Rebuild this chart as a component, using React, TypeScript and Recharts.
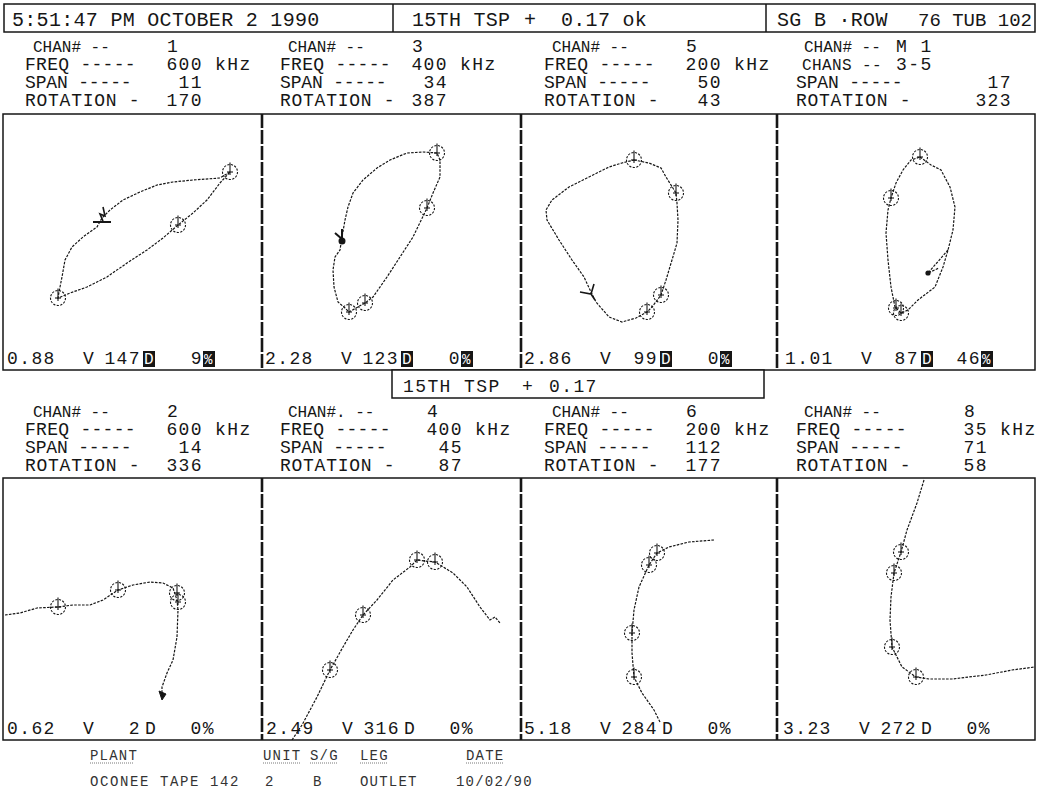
import React from 'react';
import { ScatterChart, Scatter, XAxis, YAxis } from 'recharts';

// channel header values, in panel order (top row 1,3,5,mix then bottom row 2,4,6,8)
const chanNumbers = ['1', '3', '5', 'M 1', '2', '4', '6', '8'];
const freqValues = ['600', '400', '200', '3-5', '600', '400', '200', '35'];
const spanValues = ['11', '34', '50', '17', '14', '45', '112', '71'];
const rotationValues = ['170', '387', '43', '323', '336', '87', '177', '58'];
const voltValues = ['0.88', '2.28', '2.86', '1.01', '0.62', '2.49', '5.18', '3.23'];
const angleValues = ['147', '123', '99', '87', '2', '316', '284', '272'];
const pctValues = ['9', '0', '0', '46', '0', '0', '0', '0'];

// lissajous traces, panel units (x right, y up)
const p1Trace = [[227,198],[217,192],[190,190],[170,188],[154,185],[137,178],[120,170],[107,160],[99,152],[94,143],[80,133],[69,123],[62,110],[59,93],[56,78],[55,72],[67,77],[84,83],[104,93],[124,107],[144,120],[160,132],[175,145],[190,157],[204,170],[217,187],[227,198]];
const p1Rings = [[227,198],[175,145],[55,72]];
const p1Marks = [[99,155]];

const p2Trace = [[175,217],[161,218],[145,217],[128,210],[115,202],[101,190],[91,177],[86,163],[83,150],[80,133],[78,120],[73,113],[71,100],[72,83],[76,68],[83,62],[87,58],[103,67],[111,73],[125,93],[138,113],[151,133],[165,162],[171,177],[178,193],[178,210],[175,217]];
const p2Rings = [[175,217],[165,162],[103,67],[87,58]];
const p2Marks = [[80,133]];

const p3Trace = [[113,210],[128,207],[140,202],[145,193],[155,177],[156,167],[157,150],[156,127],[151,110],[145,90],[140,75],[131,63],[126,58],[115,52],[101,48],[88,53],[75,68],[70,78],[63,93],[51,110],[38,130],[26,150],[25,160],[31,170],[48,183],[68,193],[88,203],[101,207],[113,210]];
const p3Rings = [[113,210],[155,177],[140,75],[126,58]];
const p3Marks = [[70,78]];

const p4Trace = [[143,213],[154,205],[164,200],[173,183],[178,163],[176,140],[171,120],[166,103],[158,83],[141,70],[131,60],[124,57],[118,63],[114,83],[111,110],[109,137],[111,160],[114,172],[119,187],[126,200],[134,210],[143,213]];
const p4Spur = [[171,120],[151,97],[162,102]];
const p4Rings = [[143,213],[114,172],[124,57],[119,62]];
const p4Marks = [[151,97]];

const p5Trace = [[2,125],[17,127],[34,132],[55,133],[70,135],[87,135],[100,140],[115,150],[130,155],[147,158],[160,157],[170,152],[174,140],[175,130],[174,103],[170,80],[164,67],[159,53],[159,43]];
const p5Rings = [[55,133],[115,150],[174,147],[175,138]];
const p5Marks = [[159,43]];

const p6Trace = [[30,0],[40,15],[55,43],[68,70],[81,93],[91,110],[101,125],[115,140],[131,160],[148,173],[155,180],[163,179],[173,178],[191,167],[205,153],[218,133],[228,120],[233,123],[238,117]];
const p6Rings = [[68,70],[101,125],[155,180],[173,178]];

const p7Trace = [[193,200],[168,198],[148,193],[136,187],[128,175],[118,153],[113,130],[111,107],[111,87],[113,63],[121,47],[133,30],[139,18]];
const p7Rings = [[136,187],[128,175],[111,107],[113,63]];

const p8Trace = [[147,260],[140,237],[130,210],[124,188],[117,167],[114,143],[113,120],[115,93],[125,73],[139,63],[152,61],[175,61],[209,65],[235,70],[258,73]];
const p8Rings = [[124,188],[117,167],[115,93],[139,63]];

const FONT = '"Liberation Mono", "DejaVu Sans Mono", monospace';
const INK = '#161616';
const pts = (arr: number[][]) => arr.map(([x, y]) => ({ x, y }));
const traceStyle = { stroke: INK, strokeWidth: 1.2, strokeDasharray: '2.6 1.3', fill: 'none' };

const Blank = () => <g />;

const Ring = (props: any) => {
  const { cx, cy } = props;
  const r = 7.5;
  return (
    <g>
      <circle cx={cx} cy={cy} r={r} fill="none" stroke={INK} strokeWidth={1.1} strokeDasharray="2.2 1.4" />
      <line x1={cx} x2={cx} y1={cy - r - 2} y2={cy + 3} stroke={INK} strokeWidth={1.1} />
      <line x1={cx - 3} x2={cx + 3} y1={cy} y2={cy} stroke={INK} strokeWidth={1.1} />
    </g>
  );
};

const Bolt = (props: any) => {
  const { cx, cy } = props;
  return (
    <g stroke={INK} strokeWidth={1.6} fill="none">
      <path d={`M${cx - 9} ${cy + 7} H${cx + 9}`} strokeWidth={2} />
      <path d={`M${cx + 1} ${cy + 6} L${cx - 2} ${cy - 1} L${cx + 3} ${cy + 1} L${cx + 1} ${cy - 8}`} />
    </g>
  );
};

const Flag = (props: any) => {
  const { cx, cy } = props;
  return (
    <g stroke={INK} strokeWidth={2} fill="none">
      <path d={`M${cx - 7} ${cy - 4} L${cx} ${cy + 2} L${cx} ${cy - 8}`} />
      <circle cx={cx} cy={cy + 4} r={2.5} fill={INK} />
    </g>
  );
};

const Fork = (props: any) => {
  const { cx, cy } = props;
  return (
    <g stroke={INK} strokeWidth={1.6} fill="none">
      <path d={`M${cx - 11} ${cy} L${cx} ${cy + 2} L${cx + 3} ${cy - 8} M${cx} ${cy + 2} L${cx + 4} ${cy + 8}`} />
    </g>
  );
};

const Dot = (props: any) => {
  const { cx, cy } = props;
  return <circle cx={cx} cy={cy} r={2.6} fill={INK} />;
};

const Arrow = (props: any) => {
  const { cx, cy } = props;
  return <path d={`M${cx - 3} ${cy - 6} L${cx + 4} ${cy - 3} L${cx} ${cy + 3} Z`} fill={INK} stroke={INK} />;
};

const PanelChart = ({ x, y, w, h, trace, rings, spur, marks, markShape }: any) => (
  <div style={{ position: 'absolute', left: x, top: y, width: w, height: h }}>
    <ScatterChart width={w} height={h} margin={{ top: 0, right: 0, bottom: 0, left: 0 }}>
      <XAxis type="number" dataKey="x" domain={[0, w]} hide />
      <YAxis type="number" dataKey="y" domain={[0, h]} hide />
      <Scatter data={pts(trace)} line={traceStyle} shape={Blank} isAnimationActive={false} />
      {spur && <Scatter data={pts(spur)} line={traceStyle} shape={Blank} isAnimationActive={false} />}
      <Scatter data={pts(rings)} shape={Ring} isAnimationActive={false} />
      {marks && <Scatter data={pts(marks)} shape={markShape} isAnimationActive={false} />}
    </ScatterChart>
  </div>
);

const T = ({ x, y, children, size = 18, anchor = 'start', fill = INK, len, spacing }: any) => (
  <text
    x={x}
    y={y}
    fontFamily={FONT}
    fontSize={size}
    letterSpacing={spacing ?? (size >= 19 ? 0.3 : size >= 17 ? 1.4 : 1.6)}
    textAnchor={anchor}
    fill={fill}
    xmlSpace="preserve"
    style={{ whiteSpace: 'pre' }}
    textLength={len}
    lengthAdjust={len ? 'spacing' : undefined}
  >
    {children}
  </text>
);

const colX = [3, 262, 521, 777, 1035];
const blockX = [25, 280, 544, 796];

export default function App() {
  const topY = 114, topH = 256, botY = 478, botH = 262;
  const panels = [
    { trace: p1Trace, rings: p1Rings, marks: p1Marks, markShape: Bolt },
    { trace: p2Trace, rings: p2Rings, marks: p2Marks, markShape: Flag },
    { trace: p3Trace, rings: p3Rings, marks: p3Marks, markShape: Fork },
    { trace: p4Trace, rings: p4Rings, marks: p4Marks, markShape: Dot, spur: p4Spur },
    { trace: p5Trace, rings: p5Rings, marks: p5Marks, markShape: Arrow },
    { trace: p6Trace, rings: p6Rings },
    { trace: p7Trace, rings: p7Rings },
    { trace: p8Trace, rings: p8Rings },
  ];

  const rowsTop = [52, 70, 88, 106];
  const rowsBot = [417, 435, 453, 471];
  const fieldTop = [167, 412, 686, 976];
  const fieldBot = [167, 427, 686, 952];
  const chanXTop = [167, 412, 686, 896];
  const chanXBot = [167, 427, 686, 964];
  const textX0Top = [7, 265, 524, 785];
  const textX0Bot = [7, 266, 524, 783];

  const block = (i: number) => {
    const bottom = i >= 4;
    const k = i % 4;
    const rows = bottom ? rowsBot : rowsTop;
    const x0 = blockX[k];
    const field = (bottom ? fieldBot : fieldTop)[k];
    const right = field + 36;
    const mixed = !bottom && k === 3;
    return (
      <g key={`b${i}`}>
        <T x={x0 + 8} y={rows[0]} size={16} spacing={0}>{i === 5 ? 'CHAN#. --' : 'CHAN# --'}</T>
        <T x={(bottom ? chanXBot : chanXTop)[k]} y={rows[0]}>{chanNumbers[i]}</T>
        {mixed ? (
          <>
            <T x={x0 + 6} y={rows[1]} size={16} spacing={0.4}>CHANS --</T>
            <T x={896} y={rows[1]}>{freqValues[i]}</T>
          </>
        ) : (
          <>
            <T x={x0} y={rows[1]} len={112}>FREQ -----</T>
            <T x={right} y={rows[1]} anchor="end">{freqValues[i]}</T>
            <T x={right + 12} y={rows[1]}>kHz</T>
          </>
        )}
        <T x={x0} y={rows[2]} len={108}>SPAN -----</T>
        <T x={right} y={rows[2]} anchor="end">{spanValues[i]}</T>
        <T x={x0} y={rows[3]} len={116}>ROTATION -</T>
        <T x={right} y={rows[3]} anchor="end">{rotationValues[i]}</T>
      </g>
    );
  };

  const readout = (i: number) => {
    const bottom = i >= 4;
    const k = i % 4;
    const x0 = (bottom ? textX0Bot : textX0Top)[k];
    const y = bottom ? 734 : 364;
    return (
      <g key={`r${i}`}>
        <T x={x0} y={y}>{voltValues[i]}</T>
        <T x={x0 + 76} y={y}>V</T>
        <T x={x0 + 134} y={y} anchor="end">{angleValues[i]}</T>
        {bottom ? (
          <>
            <T x={x0 + 138} y={y}>D</T>
            <T x={x0 + 208} y={y} anchor="end">{pctValues[i] + '%'}</T>
          </>
        ) : (
          <>
            <rect x={x0 + 136} y={y - 13} width={12} height={16} fill={INK} />
            <T x={x0 + 137} y={y} fill="#fff" spacing={0} size={16}>D</T>
            <T x={x0 + 196} y={y} anchor="end">{pctValues[i]}</T>
            <rect x={x0 + 196} y={y - 13} width={12} height={16} fill={INK} />
            <T x={x0 + 197} y={y} fill="#fff" spacing={0} size={14}>%</T>
          </>
        )}
      </g>
    );
  };

  return (
    <div style={{ position: 'absolute', left: 0, top: 0, width: 1039, height: 794, background: '#fff' }}>
      {panels.map((p, i) => {
        const k = i % 4;
        const bottom = i >= 4;
        return (
          <PanelChart
            key={i}
            x={colX[k]}
            y={bottom ? botY : topY}
            w={colX[k + 1] - colX[k]}
            h={bottom ? botH : topH}
            {...p}
          />
        );
      })}
      <svg width={1039} height={794} style={{ position: 'absolute', left: 0, top: 0, pointerEvents: 'none' }}>
        {/* header strip */}
        <rect x={4} y={4} width={1031} height={28} fill="none" stroke={INK} strokeWidth={1.5} />
        <line x1={393} x2={393} y1={4} y2={32} stroke={INK} strokeWidth={1.5} />
        <line x1={766} x2={766} y1={4} y2={32} stroke={INK} strokeWidth={1.5} />
        <T x={12} y={26} size={20}>5:51:47 PM OCTOBER 2 1990</T>
        <T x={412} y={26} size={20}>15TH TSP</T>
        <T x={524} y={26} size={20}>+</T>
        <T x={561} y={26} size={20}>0.17 ok</T>
        <T x={777} y={26} size={20}>SG B ·ROW</T>
        <T x={918} y={26} size={19} spacing={0}>76 TUB 102</T>

        {[0, 1, 2, 3, 4, 5, 6, 7].map(block)}

        {/* panel frames */}
        <rect x={3} y={topY} width={1032} height={topH} fill="none" stroke={INK} strokeWidth={1.5} />
        <rect x={3} y={botY} width={1032} height={botH} fill="none" stroke={INK} strokeWidth={1.5} />
        {[262, 521, 777].map((x) => (
          <g key={x}>
            <line x1={x} x2={x} y1={topY} y2={topY + topH} stroke={INK} strokeWidth={2.6} strokeDasharray="14 2" />
            <line x1={x} x2={x} y1={botY} y2={botY + botH} stroke={INK} strokeWidth={2.6} strokeDasharray="14 2" />
          </g>
        ))}

        {/* middle strip */}
        <rect x={392} y={370} width={372} height={28} fill="#fff" stroke={INK} strokeWidth={1.5} />
        <T x={403} y={392}>15TH TSP</T>
        <T x={522} y={392}>+</T>
        <T x={549} y={392}>0.17</T>

        {[0, 1, 2, 3, 4, 5, 6, 7].map(readout)}

        {/* footer */}
        <g fill="#333">
          <T x={90} y={760} size={14} fill="#333" spacing={1.2}>PLANT</T>
          <T x={263} y={760} size={14} fill="#333" spacing={1.2}>UNIT</T>
          <T x={310} y={760} size={14} fill="#333" spacing={1.2}>S/G</T>
          <T x={360} y={760} size={14} fill="#333" spacing={1.2}>LEG</T>
          <T x={466} y={760} size={14} fill="#333" spacing={1.2}>DATE</T>
          <T x={90} y={786} size={14} fill="#333" spacing={1.6}>OCONEE TAPE 142</T>
          <T x={265} y={786} size={14} fill="#333">2</T>
          <T x={313} y={786} size={14} fill="#333">B</T>
          <T x={360} y={786} size={14} fill="#333" spacing={1.2}>OUTLET</T>
          <T x={456} y={786} size={14} fill="#333" spacing={1.2}>10/02/90</T>
          {[[90, 44], [263, 38], [310, 28], [360, 28], [466, 38]].map(([x, w]) => (
            <line key={x} x1={x} x2={x + w} y1={763} y2={763} stroke="#555" strokeWidth={0.8} strokeDasharray="1 1" />
          ))}
        </g>
      </svg>
    </div>
  );
}
